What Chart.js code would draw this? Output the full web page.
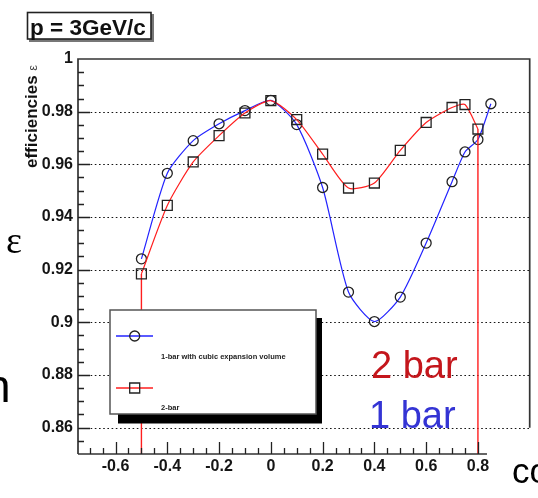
<!DOCTYPE html>
<html>
<head>
<meta charset="utf-8">
<script src="https://cdn.jsdelivr.net/npm/chart.js@4/dist/chart.umd.min.js"></script>
<style>
  html, body { margin: 0; padding: 0; background: #fff; }
  #wrap { position: relative; width: 538px; height: 498px; }
</style>
</head>
<body>
<div id="wrap"><canvas id="effChart" width="538" height="498"></canvas></div>
<script>
// efficiency vs cos(theta), p = 3 GeV/c
const cosBlue = [-0.5, -0.4, -0.3, -0.2, -0.1, 0, 0.1, 0.2, 0.3, 0.4, 0.5, 0.6, 0.7, 0.75, 0.8, 0.85];
const effBlue = [0.9241, 0.9566, 0.969, 0.9754, 0.9804, 0.9843, 0.9751, 0.9512, 0.9115, 0.9003, 0.9096, 0.9301, 0.9534, 0.9647, 0.9694, 0.983];
const cosRed = [-0.5, -0.4, -0.3, -0.2, -0.1, 0, 0.1, 0.2, 0.3, 0.4, 0.5, 0.6, 0.7, 0.75, 0.8];
const effRed = [0.9184, 0.9444, 0.9609, 0.9709, 0.9795, 0.9842, 0.977, 0.9639, 0.951, 0.9529, 0.9653, 0.9759, 0.9816, 0.9827, 0.9734];

const seriesNames = ['1-bar with cubic expansion volume', '2-bar'];

const xTickValues = [-0.6, -0.4, -0.2, 0, 0.2, 0.4, 0.6, 0.8];
const xTickLabels = ['-0.6', '-0.4', '-0.2', '0', '0.2', '0.4', '0.6', '0.8'];
const yTickValues = [0.86, 0.88, 0.9, 0.92, 0.94, 0.96, 0.98, 1];
const yTickLabels = ['0.86', '0.88', '0.9', '0.92', '0.94', '0.96', '0.98', '1'];

const X_MIN = -0.745, X_MAX = 1.0, Y_MIN = 0.85, Y_MAX = 1.0;
const BLUE = '#2323ff';
const RED = '#ff1e1e';
const SMOOTH = 0.22;

function toPoints(xs, ys) {
  return xs.map((x, i) => ({ x: x, y: ys[i] }));
}

// red curve falls off the scale at both ends
const redLast = cosRed.length - 1;
const redDropLeft = [{ x: cosRed[0], y: effRed[0] }, { x: cosRed[0], y: Y_MIN }];
const redDropRight = [{ x: cosRed[redLast], y: effRed[redLast] }, { x: cosRed[redLast], y: Y_MIN }];

const frameTicks = {
  id: 'frameTicks',
  beforeDatasetsDraw(chart) {
    const { ctx, chartArea: a, scales: { y } } = chart;
    ctx.save();
    ctx.strokeStyle = '#151515';
    ctx.lineWidth = 1.2;
    ctx.setLineDash([1.6, 2.6]);
    yTickValues.forEach(v => {
      if (v >= Y_MAX) return;
      const py = Math.round(y.getPixelForValue(v)) + 0.5;
      ctx.beginPath();
      ctx.moveTo(a.left, py);
      ctx.lineTo(a.right, py);
      ctx.stroke();
    });
    ctx.restore();
  },
  afterDatasetsDraw(chart) {
    const { ctx, chartArea: a, scales: { x, y } } = chart;
    ctx.save();
    // frame
    ctx.strokeStyle = '#333';
    ctx.lineWidth = 1.7;
    ctx.beginPath();
    ctx.moveTo(a.left, a.bottom);
    ctx.lineTo(a.left, a.top);
    ctx.lineTo(a.right, a.top);
    ctx.lineTo(a.right, y.getPixelForValue(0.86));
    ctx.moveTo(a.left, a.bottom);
    ctx.lineTo(x.getPixelForValue(0.835), a.bottom);
    ctx.stroke();

    // inward tick marks
    ctx.strokeStyle = '#222';
    ctx.lineWidth = 1.3;
    ctx.beginPath();
    for (let k = -14; k <= 16; k++) {
      const v = k * 0.05;
      if (v < X_MIN) continue;
      const px = Math.round(x.getPixelForValue(v)) + 0.5;
      const len = (k % 4 === 0) ? 12 : 6;
      ctx.moveTo(px, a.bottom);
      ctx.lineTo(px, a.bottom - len);
    }
    for (let k = 171; k < 200; k++) {
      const v = k * 0.005;
      const py = Math.round(y.getPixelForValue(v)) + 0.5;
      const len = (k % 4 === 0) ? 12 : 6;
      ctx.moveTo(a.left, py);
      ctx.lineTo(a.left + len, py);
    }
    ctx.stroke();

    // legend box with drop shadow
    const lx = 110, ly = 310, lw = 206, lh = 104;
    ctx.fillStyle = '#000';
    ctx.fillRect(lx + 8, ly + 8, lw - 2, lh + 1.5);
    ctx.fillStyle = '#fff';
    ctx.fillRect(lx, ly, lw, lh);
    ctx.strokeStyle = '#555';
    ctx.lineWidth = 1.5;
    ctx.strokeRect(lx, ly, lw, lh);

    const entries = [
      { ds: chart.data.datasets[1], sy: 336, ty: 357 },
      { ds: chart.data.datasets[0], sy: 388, ty: 408 }
    ];
    entries.forEach(e => {
      ctx.strokeStyle = e.ds.borderColor;
      ctx.lineWidth = 1.4;
      ctx.beginPath();
      ctx.moveTo(116, e.sy);
      ctx.lineTo(153, e.sy);
      ctx.stroke();
      ctx.strokeStyle = '#222';
      ctx.lineWidth = 1.3;
      ctx.beginPath();
      if (e.ds.pointStyle === 'rect') {
        ctx.rect(129.7, e.sy - 5, 10, 10);
      } else {
        ctx.arc(134.7, e.sy, 5, 0, Math.PI * 2);
      }
      ctx.stroke();
      ctx.fillStyle = '#222';
      ctx.font = 'bold 7.5px "Liberation Sans", Arial, sans-serif';
      ctx.textAlign = 'left';
      ctx.textBaseline = 'middle';
      ctx.fillText(e.ds.label, 161, e.ty);
    });
    ctx.restore();
  },
  afterDraw(chart) {
    const { ctx } = chart;
    ctx.save();
    // title box
    ctx.fillStyle = '#777';
    ctx.fillRect(29, 14, 125, 28);
    ctx.fillStyle = '#fff';
    ctx.fillRect(27, 12, 124, 27);
    ctx.strokeStyle = '#222';
    ctx.lineWidth = 1.6;
    ctx.strokeRect(27.5, 12.5, 123.5, 26.5);
    ctx.fillStyle = '#111';
    ctx.font = 'bold 22.5px "Liberation Sans", Arial, sans-serif';
    ctx.textAlign = 'left';
    ctx.textBaseline = 'alphabetic';
    ctx.fillText('p = 3GeV/c', 30, 35);

    // y axis title
    ctx.save();
    ctx.translate(37, 168);
    ctx.rotate(-Math.PI / 2);
    ctx.font = 'bold 17px "Liberation Sans", Arial, sans-serif';
    ctx.fillText('efficiencies', 0, 0);
    const w = ctx.measureText('efficiencies ').width;
    ctx.font = '13px "Liberation Sans", Arial, sans-serif';
    ctx.fillStyle = '#444';
    ctx.fillText('ε', w, 0);
    ctx.restore();

    // overlaid annotations
    ctx.font = '38px "Liberation Sans", Arial, sans-serif';
    ctx.fillStyle = '#c4161c';
    ctx.fillText('2 bar', 371, 378);
    ctx.fillStyle = '#3434d4';
    ctx.fillText('1 bar', 369, 428);
    ctx.fillStyle = '#000';
    ctx.font = '38px "Liberation Serif", "DejaVu Serif", serif';
    ctx.fillText('ε', 6, 253);
    ctx.font = '46px "Liberation Sans", Arial, sans-serif';
    ctx.fillText('n', -15, 402);
    ctx.font = '35px "Liberation Sans", Arial, sans-serif';
    ctx.fillText('cos θ', 512, 483);
    ctx.restore();
  }
};

const tickFont = { family: '"Liberation Sans", Arial, sans-serif', size: 16, weight: 'bold' };

new Chart(document.getElementById('effChart'), {
  type: 'line',
  data: {
    datasets: [
      {
        label: seriesNames[1],
        data: toPoints(cosRed, effRed),
        borderColor: RED,
        borderWidth: 1.2,
        tension: SMOOTH,
        pointStyle: 'rect',
        pointRadius: 7,
        pointBorderColor: '#222',
        pointBorderWidth: 1.3,
        pointBackgroundColor: 'rgba(0,0,0,0)',
        order: 0
      },
      {
        label: seriesNames[0],
        data: toPoints(cosBlue, effBlue),
        borderColor: BLUE,
        borderWidth: 1.2,
        tension: SMOOTH,
        pointStyle: 'circle',
        pointRadius: 5,
        pointBorderColor: '#222',
        pointBorderWidth: 1.3,
        pointBackgroundColor: 'rgba(0,0,0,0)',
        order: 1
      },
      { data: redDropLeft, borderColor: RED, borderWidth: 1.4, pointRadius: 0, tension: 0, order: 0 },
      { data: redDropRight, borderColor: RED, borderWidth: 1.4, pointRadius: 0, tension: 0, order: 0 }
    ]
  },
  options: {
    responsive: false,
    animation: false,
    events: [],
    layout: { padding: { top: 59, right: 2, left: 0, bottom: 0 } },
    plugins: { legend: { display: false }, tooltip: { enabled: false } },
    scales: {
      x: {
        type: 'linear',
        min: X_MIN,
        max: X_MAX,
        grid: { display: false, drawTicks: false },
        border: { display: false },
        afterBuildTicks: s => { s.ticks = xTickValues.map(v => ({ value: v })); },
        afterFit: s => { s.height = 44; },
        ticks: {
          autoSkip: false,
          maxRotation: 0,
          padding: 3,
          color: '#151515',
          font: tickFont,
          callback: (v, i) => xTickLabels[i]
        }
      },
      y: {
        min: Y_MIN,
        max: Y_MAX,
        grid: { display: false, drawTicks: false },
        border: { display: false },
        afterBuildTicks: s => { s.ticks = yTickValues.map(v => ({ value: v })); },
        afterFit: s => { s.width = 78; },
        ticks: {
          autoSkip: false,
          padding: 5,
          color: '#151515',
          font: tickFont,
          callback: (v, i) => yTickLabels[i]
        }
      }
    }
  },
  plugins: [frameTicks]
});
</script>
</body>
</html>
